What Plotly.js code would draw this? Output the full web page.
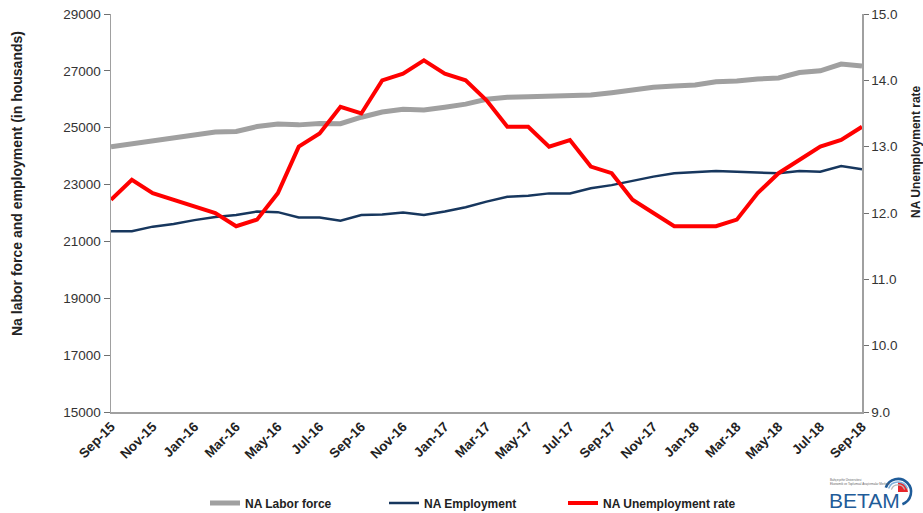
<!DOCTYPE html>
<html>
<head>
<meta charset="utf-8">
<script src="https://cdn.plot.ly/plotly-3.0.1.min.js"></script>
<style>html,body{margin:0;padding:0;background:#fff;}#chart{width:923px;height:513px;}</style>
</head>
<body>
<div id="chart"></div>
<script>
const months = ['Sep-15','Oct-15','Nov-15','Dec-15','Jan-16','Feb-16','Mar-16','Apr-16','May-16','Jun-16','Jul-16','Aug-16',
  'Sep-16','Oct-16','Nov-16','Dec-16','Jan-17','Feb-17','Mar-17','Apr-17','May-17','Jun-17','Jul-17','Aug-17',
  'Sep-17','Oct-17','Nov-17','Dec-17','Jan-18','Feb-18','Mar-18','Apr-18','May-18','Jun-18','Jul-18','Aug-18','Sep-18'];

const laborForce = [24330, 24430, 24560, 24630, 24770, 24850, 24870, 25040, 25130, 25100, 25150, 25140,
  25370, 25550, 25650, 25620, 25720, 25830, 26000, 26070, 26090, 26110, 26120, 26150,
  26230, 26340, 26420, 26470, 26500, 26620, 26640, 26710, 26750, 26940, 27000, 27240, 27170];

const employment = [21360, 21360, 21520, 21610, 21750, 21860, 21930, 22050, 22030, 21840, 21840, 21730,
  21930, 21950, 22020, 21930, 22050, 22200, 22400, 22570, 22610, 22690, 22690, 22870,
  22980, 23130, 23280, 23400, 23450, 23480, 23450, 23430, 23400, 23480, 23450, 23650, 23540];

const unemploymentRate = [12.2, 12.5, 12.3, 12.2, 12.1, 12.0, 11.8, 11.9, 12.3, 13.0, 13.2, 13.6,
  13.5, 14.0, 14.1, 14.3, 14.1, 14.0, 13.7, 13.3, 13.3, 13.0, 13.1, 12.7,
  12.6, 12.2, 12.0, 11.8, 11.8, 11.8, 11.9, 12.3, 12.6, 12.8, 13.0, 13.1, 13.3];

const seriesNames = ['NA Labor force', 'NA Employment', 'NA Unemployment rate'];
const leftTitle = 'Na labor force and employment (in housands)';
const rightTitle = 'NA Unemployment rate';

// layout geometry helpers (pixels -> paper)
const W = 923, H = 513, ML = 111, MR = 61, MT = 14, MB = 101;
const PW = W - ML - MR, PH = H - MT - MB;
const px = x => (x - ML) / PW;
const py = y => (H - MB - y) / PH;

const labelTicks = months.filter((m, i) => i % 2 === 0);
const markTicks = [];
for (let i = 0; i < months.length; i += 3) markTicks.push(i);

const FONT = 'Liberation Sans, Arial, sans-serif';

const traces = [
  {x: months, y: laborForce, name: seriesNames[0], type: 'scatter', mode: 'lines',
   line: {color: '#a0a0a0', width: 5}, yaxis: 'y'},
  {x: months, y: employment, name: seriesNames[1], type: 'scatter', mode: 'lines',
   line: {color: '#17375e', width: 2.5}, yaxis: 'y'},
  {x: months, y: unemploymentRate, name: seriesNames[2], type: 'scatter', mode: 'lines',
   line: {color: '#ff0000', width: 4}, yaxis: 'y2'}
];

const logoSvg = "<svg xmlns='http://www.w3.org/2000/svg' width='40' height='40' viewBox='0 0 40 40'>" +
  "<path d='M20 22 L20 12 A10 10 0 0 1 30 22 Z' fill='#e8262b'/>" +
  "<path d='M7.8 17.6 A13 13 0 1 1 24.4 34.2' fill='none' stroke='#1f5c99' stroke-width='2.6'/>" +
  "<path d='M10.6 18.6 A10 10 0 0 1 29.4 18.6' fill='none' stroke='#7fb2dd' stroke-width='1.6'/>" +
  "<path d='M13.4 19.6 A7 7 0 0 1 26.6 19.6' fill='none' stroke='#b9b9b9' stroke-width='1.2'/>" +
  "</svg>";

const layout = {
  width: W, height: H,
  margin: {l: ML, r: MR, t: MT, b: MB, pad: 0, autoexpand: false},
  paper_bgcolor: '#ffffff', plot_bgcolor: '#ffffff',
  font: {family: FONT, color: '#333333'},
  showlegend: true,
  legend: {orientation: 'h', xref: 'container', x: 205 / W, xanchor: 'left',
    yref: 'container', y: (H - 503) / H, yanchor: 'middle',
    font: {family: FONT, size: 12, color: '#222222', weight: 'bold'},
    entrywidth: 134, entrywidthmode: 'pixels', bgcolor: 'rgba(0,0,0,0)', borderwidth: 0},
  xaxis: {type: 'category', range: [0, months.length - 1], tickmode: 'array', tickvals: labelTicks, ticktext: labelTicks,
    ticks: '', showline: true, linecolor: '#a0a0a0', linewidth: 1.5, showgrid: false, zeroline: false,
    automargin: false, tickangle: -45, tickfont: {family: FONT, size: 13.5, color: '#222222', weight: 'bold'}},
  xaxis2: {type: 'linear', overlaying: 'x', anchor: 'y', side: 'bottom', range: [0, months.length - 1],
    tickmode: 'array', tickvals: markTicks, ticks: 'outside', ticklen: 5, tickwidth: 1, tickcolor: '#707070',
    showticklabels: false, showline: false, showgrid: false, zeroline: false, automargin: false},
  yaxis: {range: [15000, 29000], tick0: 15000, dtick: 2000, tickformat: 'd', ticks: 'outside', ticklen: 6,
    tickcolor: '#707070', showline: true, linecolor: '#a0a0a0', linewidth: 1.5, showgrid: false, zeroline: false,
    automargin: false, tickfont: {family: FONT, size: 13.5, color: '#333333'}},
  yaxis2: {range: [9, 15], tick0: 9, dtick: 1, tickformat: '.1f', overlaying: 'y', side: 'right', anchor: 'x',
    ticks: 'outside', ticklen: 5, tickcolor: '#707070', showline: true, linecolor: '#a0a0a0', linewidth: 1.5,
    automargin: false, showgrid: false, zeroline: false, tickfont: {family: FONT, size: 13.5, color: '#333333'}},
  annotations: [
    {text: '<b>' + leftTitle + '</b>', xref: 'paper', yref: 'paper', x: px(17), y: py(184), textangle: -90,
     showarrow: false, xanchor: 'center', yanchor: 'middle', font: {family: FONT, size: 14, color: '#222222'}},
    {text: '<b>' + rightTitle + '</b>', xref: 'paper', yref: 'paper', x: px(916), y: py(152), textangle: -90,
     showarrow: false, xanchor: 'center', yanchor: 'middle', font: {family: FONT, size: 12, color: '#222222'}},
    {text: 'BETAM', xref: 'paper', yref: 'paper', x: px(827), y: py(500), xanchor: 'left', yanchor: 'middle',
     showarrow: false, font: {family: FONT, size: 21, color: '#1f5c99'}},
    {text: 'Bahçeşehir Üniversitesi<br>Ekonomik ve Toplumsal Araştırmalar Merkezi', xref: 'paper', yref: 'paper',
     x: px(828), y: py(482), xanchor: 'left', yanchor: 'middle', align: 'left', showarrow: false,
     font: {family: FONT, size: 3, color: '#666666'}}
  ],
  images: [
    {source: 'data:image/svg+xml;charset=utf-8,' + encodeURIComponent(logoSvg), xref: 'paper', yref: 'paper',
     x: px(878), y: py(470), sizex: 40 / PW, sizey: 40 / PH, xanchor: 'left', yanchor: 'top', sizing: 'stretch', layer: 'above'}
  ]
};

Plotly.newPlot('chart', traces, layout, {displayModeBar: false, staticPlot: true});
</script>
</body>
</html>
